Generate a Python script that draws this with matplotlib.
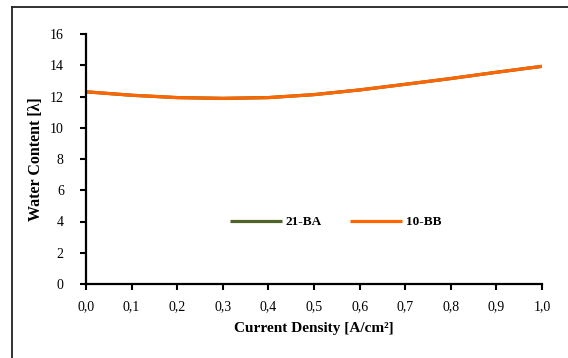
import matplotlib.pyplot as plt
from matplotlib.lines import Line2D

plt.rcParams['font.family'] = ['Liberation Serif', 'DejaVu Serif']

# current density [A/cm2] and water content for both membranes
current_density = [0.0, 0.1, 0.2, 0.3, 0.4, 0.5, 0.6, 0.7, 0.8, 0.9, 1.0]
water_21ba = [12.30, 12.08, 11.93, 11.88, 11.93, 12.12, 12.42, 12.78, 13.15, 13.55, 13.93]
water_10bb = [12.30, 12.08, 11.93, 11.88, 11.93, 12.12, 12.42, 12.78, 13.15, 13.55, 13.93]
x_ticks = [0.0, 0.1, 0.2, 0.3, 0.4, 0.5, 0.6, 0.7, 0.8, 0.9, 1.0]
y_ticks = [0, 2, 4, 6, 8, 10, 12, 14, 16]

W, H = 568, 358
fig = plt.figure(figsize=(W / 100, H / 100), dpi=100)
ax = fig.add_axes([86 / W, 1 - 284 / H, 456 / W, 250 / H])

ax.plot(current_density, water_21ba, color='#4F6228', lw=2.3, label='21-BA',
        solid_capstyle='butt')
ax.plot(current_density, water_10bb, color='#FF6600', lw=2.3, label='10-BB',
        solid_capstyle='butt')

ax.set_xlim(0, 1.0)
ax.set_ylim(0, 16)
ax.set_xticks(x_ticks)
ax.set_xticklabels([f'{v:.1f}'.replace('.', ',') for v in x_ticks])
ax.set_yticks(y_ticks)
ax.tick_params(axis='both', direction='out', length=4, width=1.5, labelsize=10)
ax.tick_params(axis='y', pad=12)
ax.tick_params(axis='x', pad=8)

for s in ['top', 'right']:
    ax.spines[s].set_visible(False)
for s in ['left', 'bottom']:
    ax.spines[s].set_linewidth(1.6)

ax.set_xlabel('Current Density [A/cm²]', fontsize=11, fontweight='bold', labelpad=6)
ax.set_ylabel('Water Content [λ]', fontsize=11.5, fontweight='bold', labelpad=4)

leg = ax.legend(loc='center', bbox_to_anchor=(0.547, 0.248), ncol=2, frameon=False,
                handlelength=4.0, handletextpad=0.25, columnspacing=2.1,
                prop={'weight': 'bold', 'size': 9.5})

# outer chart border (left and top edges)
fig.add_artist(Line2D([12 / W, 12 / W], [0, 1 - 7 / H], color='#222222', lw=1.3))
fig.add_artist(Line2D([12 / W, 1], [1 - 7 / H, 1 - 7 / H], color='#222222', lw=1.3))

fig.savefig('out.png', dpi=100)
